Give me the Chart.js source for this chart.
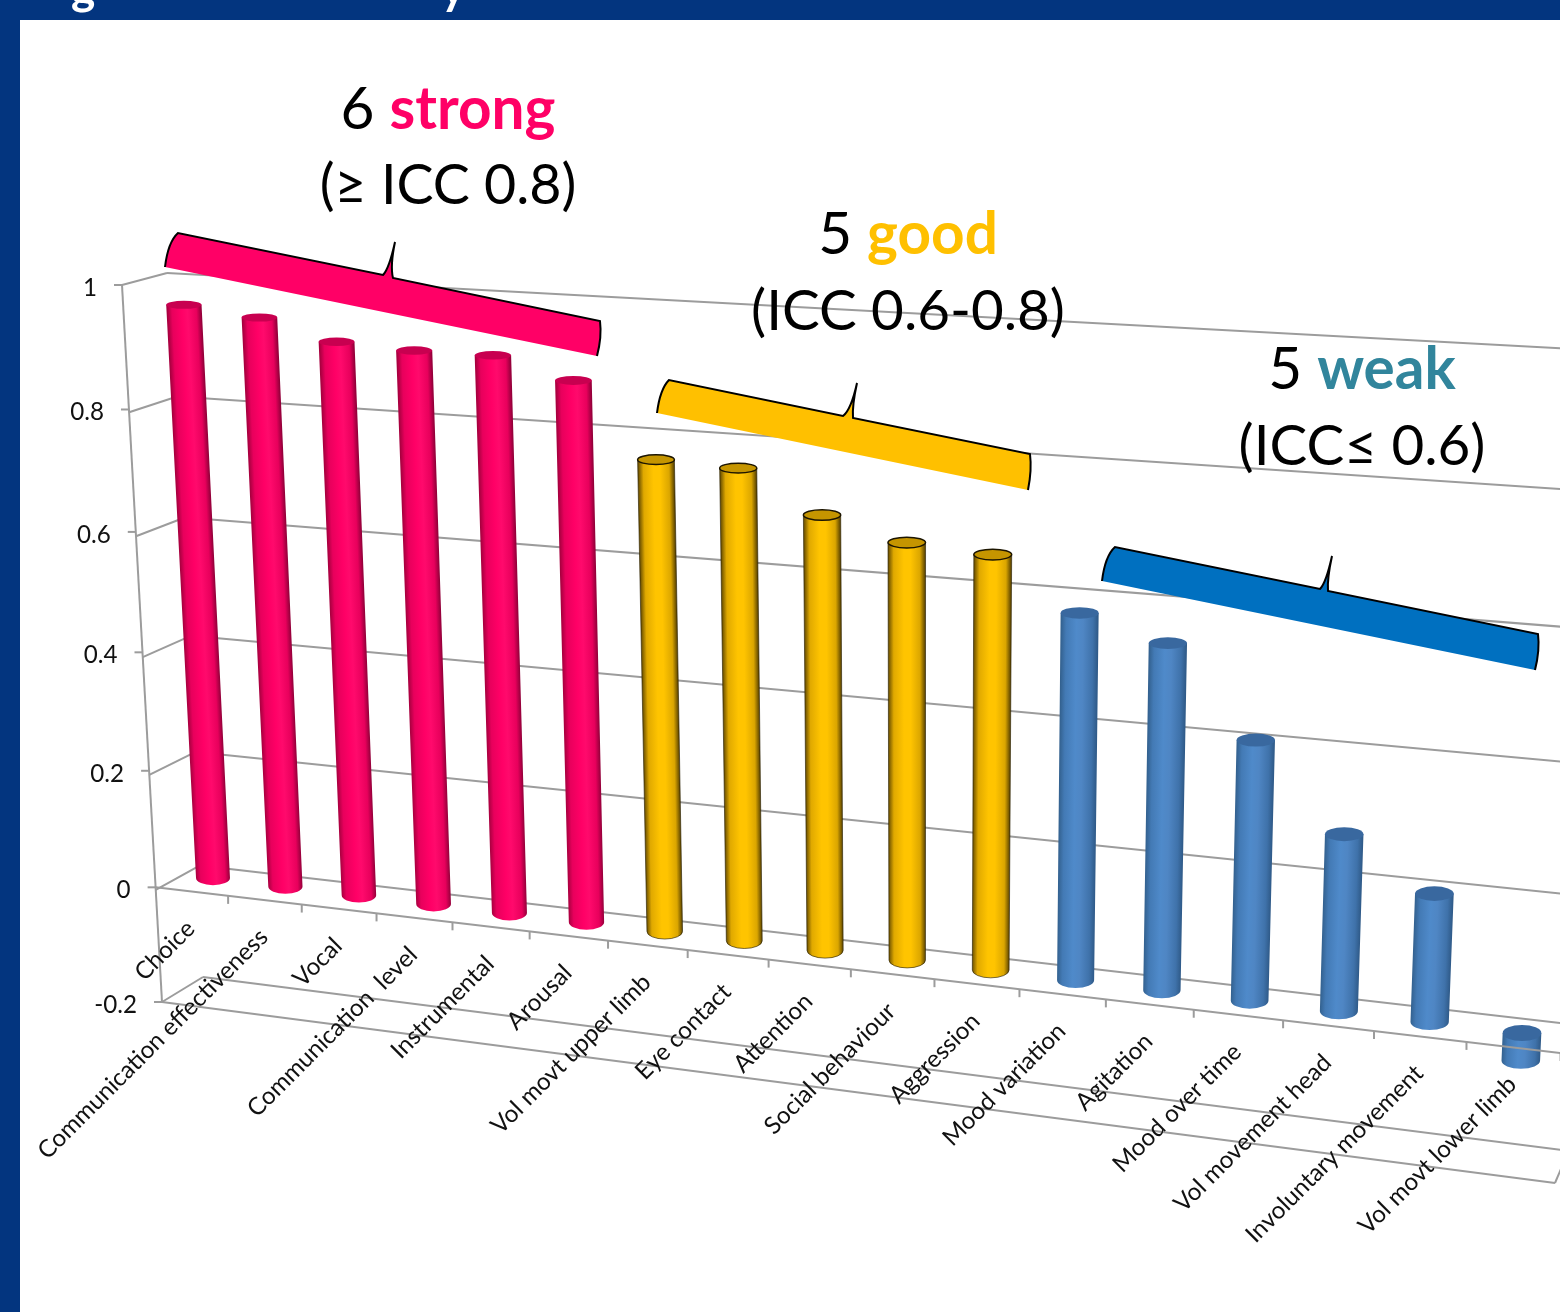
<!DOCTYPE html>
<html><head><meta charset="utf-8">
<style>
html,body{margin:0;padding:0;width:1560px;height:1312px;overflow:hidden;background:#03357f;font-family:Lato,sans-serif}
#panel{position:absolute;left:20px;top:20px;right:0;bottom:0;background:#fff}
canvas{position:absolute;left:0;top:0}
.h{position:absolute;white-space:pre;text-align:center;color:#000;font-size:56.5px;line-height:64px;transform:translateX(-50%)}
.h.a{font-size:58.5px}
.h b{font-weight:700}
.c{position:absolute;color:#fff;font-weight:700;font-size:46px;line-height:46px;white-space:pre}
</style></head><body>
<div id="panel"></div>
<canvas id="chart" width="1560" height="1312"></canvas>
<div class="c" style="left:71px;top:-36px">g</div>
<div class="c" style="left:441px;top:-36px">y</div>
<div class="h a" style="left:448px;top:74px">6 <b style="color:#ff0066">strong</b></div>
<div class="h" style="left:448px;top:151px;font-size:55.5px">(≥ ICC 0.8)</div>
<div class="h a" style="left:908px;top:199px">5 <b style="color:#ffc000">good</b></div>
<div class="h" style="left:908px;top:276px">(ICC 0.6-0.8)</div>
<div class="h a" style="left:1362px;top:334px">5 <b style="color:#31859c">weak</b></div>
<div class="h" style="left:1362px;top:411px">(ICC≤ 0.6)</div>
<script src="https://cdn.jsdelivr.net/npm/chart.js@4"></script>
<script>
const categories = ["Choice","Communication effectiveness","Vocal","Communication  level","Instrumental","Arousal","Vol movt upper limb","Eye contact","Attention","Social behaviour","Aggression","Mood variation","Agitation","Mood over time","Vol movement head","Involuntary movement","Vol movt lower limb"];
const iccValues = [0.942,0.929,0.898,0.892,0.892,0.861,0.748,0.744,0.682,0.65,0.642,0.565,0.531,0.398,0.27,0.195,-0.042];
const groups = ["strong","strong","strong","strong","strong","strong","good","good","good","good","good","weak","weak","weak","weak","weak","weak"];

const STYLE = {
  strong:{stops:["#a8003f","#e8005c","#ff0066","#ff0a6c","#e8005c","#94003a"],cap:"#c80050",outline:null,base:"#ff0066"},
  good:{stops:["#6e5200","#e0a900","#ffc400","#ffc400","#dba600","#5f4700"],cap:"#c59500",outline:"rgba(40,30,0,0.7)",base:"#ffc000"},
  weak:{stops:["#33618f","#437ab5","#4f8aca","#4f86c4","#3f72aa","#2f5a88"],cap:"#39689f",outline:null,base:"#4f81bd"}
};
function quad(p00,p10,p01,p11){
  const dx1=p10[0]-p11[0],dx2=p01[0]-p11[0],sx=p00[0]-p10[0]+p11[0]-p01[0];
  const dy1=p10[1]-p11[1],dy2=p01[1]-p11[1],sy=p00[1]-p10[1]+p11[1]-p01[1];
  const den=dx1*dy2-dx2*dy1;
  const g=(sx*dy2-dx2*sy)/den,h=(dx1*sy-sx*dy1)/den;
  const a=p10[0]-p00[0]+g*p10[0],b=p01[0]-p00[0]+h*p01[0],c=p00[0];
  const d=p10[1]-p00[1]+g*p10[1],e=p01[1]-p00[1]+h*p01[1],f=p00[1];
  const fn=(s,t)=>{const w=g*s+h*t+1;return [(a*s+b*t+c)/w,(d*s+e*t+f)/w];};
  fn.w=(s,t)=>g*s+h*t+1;
  return fn;
}
const backWall=quad([203,977],[1610,1156],[167,273],[1667,354]);
const leftWall=quad([162,1002],[203,977],[122,285],[167,273]);
const frontPlane=quad([162,1002],[1555,1183],[122,285],[1590,365]);
const barPlane=quad([213,878],[1522,1033],[182,268],[1552,342]);
const tWall=v=>(v+0.2)/1.2;

function seg(ctx,a,b){ctx.beginPath();ctx.moveTo(a[0],a[1]);ctx.lineTo(b[0],b[1]);ctx.stroke();}

function braceOutline(ctx,{tl,bl,br,tr,na,tip,nb}){
  ctx.beginPath();
  ctx.moveTo(bl[0],bl[1]);
  ctx.quadraticCurveTo(bl[0]+3,tl[1]+9,tl[0],tl[1]);
  ctx.lineTo(na[0],na[1]);
  ctx.quadraticCurveTo(tip[0]-6,na[1]-6,tip[0],tip[1]);
  ctx.quadraticCurveTo(tip[0]-5,nb[1]-12,nb[0],nb[1]);
  ctx.lineTo(tr[0],tr[1]);
  ctx.quadraticCurveTo(tr[0]+2,tr[1]+16,br[0],br[1]);
}
function brace(ctx,fill,pts){
  braceOutline(ctx,pts);
  ctx.closePath();
  ctx.fillStyle=fill;ctx.fill();
  braceOutline(ctx,pts);
  ctx.strokeStyle="#000";ctx.lineWidth=2;ctx.stroke();
}

const GRID="#9c9c9c";
const perspective={
  id:"perspective",
  beforeDatasetsDraw(chart){
    const ctx=chart.ctx,y=chart.scales.y;
    ctx.save();
    ctx.strokeStyle=GRID;ctx.lineWidth=2;ctx.lineJoin="round";
    y.ticks.forEach(tk=>{
      const t=tWall(tk.value);
      seg(ctx,leftWall(0,t),leftWall(1,t));
      seg(ctx,backWall(0,t),backWall(1,t));
    });
    ctx.restore();
  },
  beforeDatasetDraw(chart,args){
    const ctx=chart.ctx,meta=chart.getDatasetMeta(args.index);
    const xs=chart.scales.x,ys=chart.scales.y;
    const x0=xs.getPixelForValue(0),x1=xs.getPixelForValue(categories.length-1);
    ctx.save();
    meta.data.forEach((el,i)=>{
      const st=STYLE[groups[i]];
      const s=(el.x-x0)/(x1-x0);
      const vA=ys.getValueForPixel(Math.min(el.y,el.base)),vB=ys.getValueForPixel(Math.max(el.y,el.base));
      const T=barPlane(s,vA),B=barPlane(s,vB);
      const rT=el.width/2/barPlane.w(s,vA),rB=el.width/2/barPlane.w(s,vB);
      const ry=Y=>4+4.2*(Y-300)/750;
      const k=(T[0]-B[0])/(T[1]-B[1]);
      ctx.beginPath();
      ctx.moveTo(T[0]-rT,T[1]);
      ctx.lineTo(B[0]-rB,B[1]);
      ctx.ellipse(B[0],B[1],rB,ry(B[1]),0,Math.PI,0,true);
      ctx.lineTo(T[0]+rT,T[1]);
      ctx.closePath();
      ctx.save();
      ctx.transform(1,0,k,1,-k*B[1],0);
      const g=ctx.createLinearGradient(B[0]-rB,0,B[0]+rB,0);
      [0,0.14,0.42,0.6,0.86,1].forEach((p,n)=>g.addColorStop(p,st.stops[n]));
      ctx.fillStyle=g;ctx.fill();
      ctx.restore();
      if(st.outline){ctx.strokeStyle=st.outline;ctx.lineWidth=0.9;ctx.stroke();}
      ctx.beginPath();
      ctx.ellipse(T[0],T[1],rT,ry(T[1]),0,0,Math.PI*2);
      ctx.fillStyle=st.cap;ctx.fill();
      if(st.outline){ctx.strokeStyle="#1c1500";ctx.lineWidth=1.5;ctx.stroke();}
    });
    ctx.restore();
    return false;
  },
  afterDatasetsDraw(chart){
    const ctx=chart.ctx,xs=chart.scales.x,ys=chart.scales.y;
    const tick0=tWall(0),n=categories.length;
    const sOf=px=>(px-xs.left)/(xs.right-xs.left);
    ctx.save();
    ctx.strokeStyle=GRID;ctx.lineWidth=2;
    seg(ctx,frontPlane(0,0),frontPlane(0,1));
    seg(ctx,frontPlane(0,0),frontPlane(1,0));
    seg(ctx,frontPlane(0,tick0),frontPlane(1,tick0));
    seg(ctx,frontPlane(1,0),[frontPlane(1,0)[0]+6,frontPlane(1,0)[1]-14]);
    for(let i=1;i<=n;i++){
      const p=frontPlane(sOf(xs.getPixelForValue(i-0.5)),tick0);
      seg(ctx,p,[p[0],p[1]+8]);
    }
    ctx.font="24.2px Lato";ctx.fillStyle="#111";
    ys.ticks.forEach(tk=>{
      const p=frontPlane(0,tWall(tk.value));
      seg(ctx,p,[p[0]-8,p[1]]);
      ctx.textAlign="right";ctx.textBaseline="middle";
      ctx.fillText(tk.label,p[0]-25,p[1]+3);
    });
    categories.forEach((c,i)=>{
      const p=frontPlane(sOf(xs.getPixelForValue(i)),tick0);
      ctx.save();
      ctx.translate(p[0]-1,p[1]+33);
      ctx.rotate(-45*Math.PI/180);
      ctx.textAlign="right";ctx.textBaseline="middle";
      ctx.fillText(c,0,0);
      ctx.restore();
    });
    brace(ctx,"#ff0066",{tl:[178,233],bl:[165,267],br:[597,356],tr:[600,321],na:[383,275],tip:[395,242],nb:[393,278]});
    brace(ctx,"#ffc000",{tl:[669,380],bl:[657,413],br:[1028,490],tr:[1030,454],na:[843,416],tip:[857,383],nb:[853,418]});
    brace(ctx,"#0070c0",{tl:[1115,547],bl:[1102,581],br:[1535,670],tr:[1538,634],na:[1320,589],tip:[1332,556],nb:[1328,591]});
    ctx.restore();
  }
};
new Chart(document.getElementById("chart"),{
  type:"bar",
  data:{labels:categories,datasets:[{label:"ICC",data:iccValues,backgroundColor:groups.map(g=>STYLE[g].base),barPercentage:0.37,categoryPercentage:1}]},
  options:{
    responsive:false,animation:false,devicePixelRatio:1,
    layout:{padding:0},
    plugins:{legend:{display:false},tooltip:{enabled:false},title:{display:false}},
    scales:{
      x:{offset:true,grid:{display:false,drawTicks:false},border:{display:false},ticks:{display:false}},
      y:{min:-0.2,max:1,grid:{display:false,drawTicks:false},border:{display:false},
         ticks:{display:false,stepSize:0.2,callback:v=>String(Math.round(v*10)/10)}}
    }
  },
  plugins:[perspective]
});
</script>
</body></html>
